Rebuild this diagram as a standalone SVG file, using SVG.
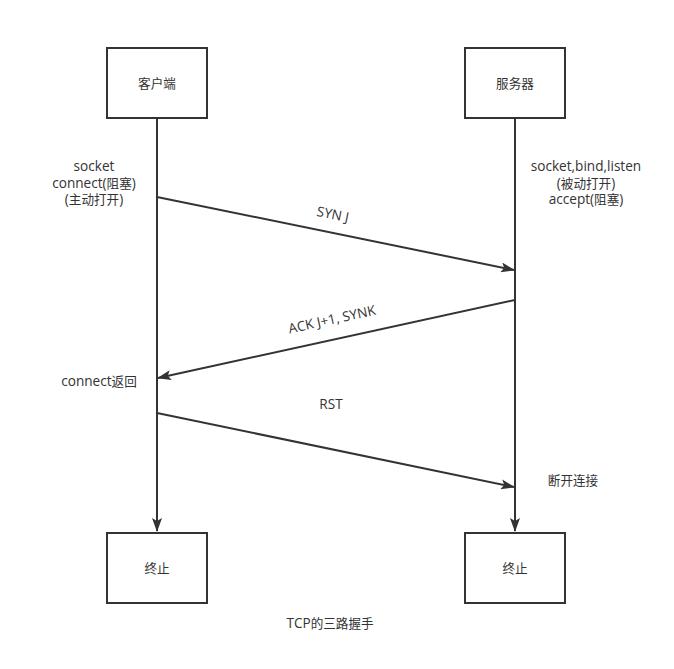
<svg xmlns="http://www.w3.org/2000/svg" width="674" height="669" viewBox="0 0 674 669">
<style>
.box{fill:#fff;stroke:#333;stroke-width:2}
.ln{stroke:#333;stroke-width:2;fill:none}
text{font-family:"Open Sans","Noto Sans CJK SC",sans-serif;font-size:13.6px;fill:#333;text-anchor:middle}
.c{font-family:"Noto Sans CJK SC",sans-serif;font-size:12.6px}
</style>
<defs>
<marker id="ah" markerWidth="14" markerHeight="10" refX="13" refY="5" orient="auto" markerUnits="userSpaceOnUse">
<path d="M0,0 L14,5 L0,10 L3,5 Z" fill="#333"/>
</marker>
</defs>
<rect width="674" height="669" fill="#fff"/>
<g id="connectors">
<line class="ln" x1="157" y1="118" x2="157" y2="531" marker-end="url(#ah)"/>
<line class="ln" x1="515" y1="118" x2="515" y2="531" marker-end="url(#ah)"/>
<line class="ln" x1="157" y1="197" x2="514" y2="270" marker-end="url(#ah)"/>
<line class="ln" x1="515" y1="300" x2="158" y2="378" marker-end="url(#ah)"/>
<line class="ln" x1="157" y1="413" x2="514" y2="487" marker-end="url(#ah)"/>
</g>
<g id="client">
<rect class="box" x="107" y="48" width="100" height="70"/>
<text class="c" x="157" y="88">客户端</text>
</g>
<g id="server">
<rect class="box" x="465" y="48" width="100" height="70"/>
<text class="c" x="515" y="88">服务器</text>
</g>
<g id="client-end">
<rect class="box" x="107" y="533" width="100" height="70"/>
<text class="c" x="157" y="573">终止</text>
</g>
<g id="server-end">
<rect class="box" x="465" y="533" width="100" height="70"/>
<text class="c" x="515" y="573">终止</text>
</g>
<g id="labels">
<text x="94" y="171">socket</text>
<text x="94" y="188">connect(<tspan class="c">阻塞</tspan>)</text>
<text x="94" y="204">(<tspan class="c">主动打开</tspan>)</text>
<text x="586" y="171">socket,bind,listen</text>
<text x="586" y="188">(<tspan class="c">被动打开</tspan>)</text>
<text x="586" y="204">accept(<tspan class="c">阻塞</tspan>)</text>
<text x="99" y="386">connect<tspan class="c">返回</tspan></text>
<text class="c" x="573" y="485">断开连接</text>
<text transform="translate(332,219) rotate(11.5)">SYN J</text>
<text transform="translate(333,324) rotate(-12.3)">ACK J+1, SYNK</text>
<text x="331" y="409">RST</text>
<text x="330" y="628">TCP<tspan class="c">的三路握手</tspan></text>
</g>
</svg>
